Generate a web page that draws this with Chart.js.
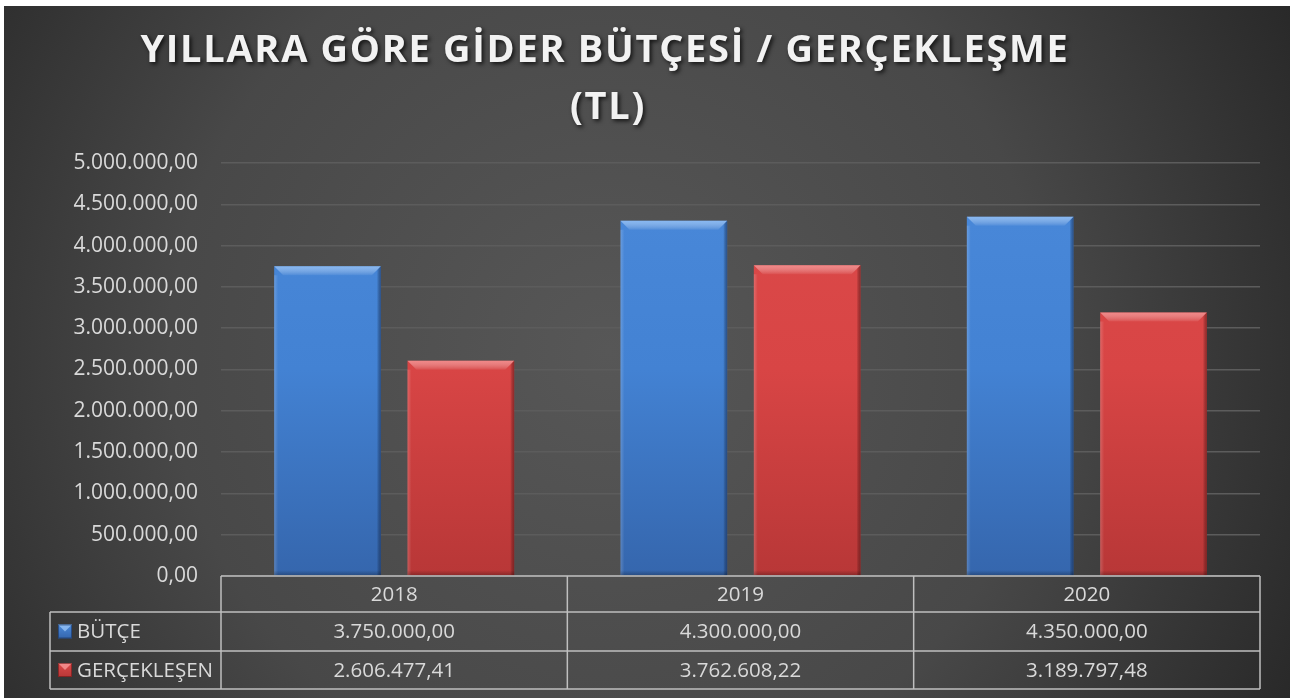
<!DOCTYPE html>
<html>
<head>
<meta charset="utf-8">
<script src="https://cdn.jsdelivr.net/npm/chart.js@4.4.1/dist/chart.umd.min.js"></script>
<style>
    html, body { margin: 0; padding: 0; background: #ffffff; }
    #wrap { position: absolute; left: 4px; top: 6px; width: 1286px; height: 692px; }
</style>
</head>
<body>
<div id="wrap"><canvas id="budgetChart"></canvas></div>
<script>
(function () {
    'use strict';

    const TITLE_LINES = ['YILLARA GÖRE GİDER BÜTÇESİ / GERÇEKLEŞME', '(TL)'];
    const YEARS = ['2018', '2019', '2020'];
    const BUDGET = [3750000, 4300000, 4350000];
    const ACTUAL = [2606477.41, 3762608.22, 3189797.48];
    const SERIES_NAMES = ['BÜTÇE', 'GERÇEKLEŞEN'];

    const FONT = "'Open Sans', 'DejaVu Sans', sans-serif";
    const TEXT_COLOR = '#d9d9d9';
    const LINE_COLOR = '#bfbfbf';

    const palette = [
        { main: '#4382d3', top: '#4a89da', bottom: '#3566ad', light: 'rgba(170,210,255,0.65)', dark: 'rgba(20,40,80,0.55)' },
        { main: '#d84545', top: '#dc4a4a', bottom: '#b83737', light: 'rgba(255,170,170,0.65)', dark: 'rgba(90,20,20,0.55)' },
    ];

    function formatTr(v) {
        const fixed = Math.abs(v).toFixed(2);
        const parts = fixed.split('.');
        const intPart = parts[0].replace(/\B(?=(\d{3})+(?!\d))/g, '.');
        return (v < 0 ? '-' : '') + intPart + ',' + parts[1];
    }

    function barGradient(ctx, i) {
        const chart = ctx.chart;
        const area = chart.chartArea;
        if (!area) return palette[i].main;
        const g = chart.ctx.createLinearGradient(0, area.top, 0, area.bottom);
        g.addColorStop(0, palette[i].top);
        g.addColorStop(0.5, palette[i].main);
        g.addColorStop(1, palette[i].bottom);
        return g;
    }

    const backgroundPlugin = {
        id: 'darkBackground',
        beforeDraw(chart) {
            const c = chart.ctx;
            const w = chart.width, h = chart.height;
            c.save();
            const g = c.createRadialGradient(w * 0.47, h * 0.5, 0, w * 0.47, h * 0.5, w * 0.62);
            g.addColorStop(0, '#575757');
            g.addColorStop(0.55, '#484848');
            g.addColorStop(1, '#262626');
            c.fillStyle = g;
            c.fillRect(0, 0, w, h);
            c.restore();
        },
    };

    const titlePlugin = {
        id: 'spacedTitle',
        afterDraw(chart) {
            const c = chart.ctx;
            c.save();
            c.font = 'bold 38px ' + FONT;
            c.letterSpacing = '1.7px';
            c.textAlign = 'center';
            c.textBaseline = 'alphabetic';
            c.fillStyle = '#f2f2f2';
            c.shadowColor = 'rgba(0,0,0,0.75)';
            c.shadowBlur = 4;
            c.shadowOffsetX = 2;
            c.shadowOffsetY = 2;
            c.fillText(TITLE_LINES[0], 601, 56);
            c.fillText(TITLE_LINES[1], 604, 113);
            c.restore();
        },
    };

    const bevelPlugin = {
        id: 'bevel',
        afterDatasetsDraw(chart) {
            const c = chart.ctx;
            chart.data.datasets.forEach((ds, di) => {
                const meta = chart.getDatasetMeta(di);
                const col = palette[di];
                meta.data.forEach((bar) => {
                    const l = bar.x - bar.width / 2;
                    const r = bar.x + bar.width / 2;
                    const t = bar.y;
                    const b = bar.base;
                    const bv = 9;
                    c.save();
                    // top bevel
                    c.beginPath();
                    c.moveTo(l, t);
                    c.lineTo(r, t);
                    c.lineTo(r - bv, t + bv);
                    c.lineTo(l + bv, t + bv);
                    c.closePath();
                    const gt = c.createLinearGradient(0, t, 0, t + bv);
                    gt.addColorStop(0, col.light);
                    gt.addColorStop(1, 'rgba(255,255,255,0.05)');
                    c.fillStyle = gt;
                    c.fill();
                    // left edge
                    const gl = c.createLinearGradient(l, 0, l + 4, 0);
                    gl.addColorStop(0, 'rgba(255,255,255,0.18)');
                    gl.addColorStop(1, 'rgba(255,255,255,0)');
                    c.fillStyle = gl;
                    c.fillRect(l, t + bv, 4, b - t - bv);
                    // right edge
                    c.beginPath();
                    c.moveTo(r, t);
                    c.lineTo(r, b);
                    c.lineTo(r - 4, b);
                    c.lineTo(r - 4, t + 4);
                    c.closePath();
                    const gr = c.createLinearGradient(r - 4, 0, r, 0);
                    gr.addColorStop(0, 'rgba(0,0,0,0)');
                    gr.addColorStop(1, col.dark);
                    c.fillStyle = gr;
                    c.fill();
                    // bottom edge
                    const gb = c.createLinearGradient(0, b - 5, 0, b);
                    gb.addColorStop(0, 'rgba(0,0,0,0)');
                    gb.addColorStop(1, 'rgba(0,0,0,0.25)');
                    c.fillStyle = gb;
                    c.fillRect(l, b - 5, r - l, 5);
                    c.restore();
                });
            });
        },
    };

    function drawMarker(c, x, y, size, col) {
        const g = c.createLinearGradient(0, y, 0, y + size);
        g.addColorStop(0, col.top);
        g.addColorStop(1, col.bottom);
        c.fillStyle = g;
        c.fillRect(x, y, size, size);
        c.beginPath();
        c.moveTo(x, y);
        c.lineTo(x + size, y);
        c.lineTo(x + size / 2, y + size / 2);
        c.closePath();
        c.fillStyle = col.light;
        c.fill();
        c.strokeStyle = col.dark;
        c.lineWidth = 1;
        c.strokeRect(x + 0.5, y + 0.5, size - 1, size - 1);
    }

    const tablePlugin = {
        id: 'dataTable',
        afterDraw(chart) {
            const c = chart.ctx;
            const area = chart.chartArea;
            const xs = chart.scales.x;
            const n = chart.data.labels.length;
            const colW = area.width / n;
            const top = area.bottom;
            const rows = [top, top + 36, top + 75, top + 113];
            const legendLeft = 46;

            c.save();
            c.strokeStyle = LINE_COLOR;
            c.lineWidth = 1.5;
            // horizontal lines
            c.beginPath();
            c.moveTo(area.left, rows[0]);
            c.lineTo(area.right, rows[0]);
            for (let k = 1; k < rows.length; k++) {
                c.moveTo(legendLeft, rows[k]);
                c.lineTo(area.right, rows[k]);
            }
            // vertical lines
            c.moveTo(legendLeft, rows[1]);
            c.lineTo(legendLeft, rows[3]);
            for (let i = 0; i <= n; i++) {
                const x = area.left + i * colW;
                c.moveTo(x, rows[0]);
                c.lineTo(x, rows[3]);
            }
            c.stroke();

            c.fillStyle = TEXT_COLOR;
            c.font = '20.5px ' + FONT;
            c.textAlign = 'center';
            c.textBaseline = 'middle';
            chart.data.labels.forEach((lab, i) => {
                const cx = xs.getPixelForValue(i);
                c.fillText(lab, cx, (rows[0] + rows[1]) / 2 + 1);
                chart.data.datasets.forEach((ds, di) => {
                    c.fillStyle = TEXT_COLOR;
                    c.fillText(formatTr(ds.data[i]), cx, (rows[di + 1] + rows[di + 2]) / 2 + 1);
                });
            });

            chart.data.datasets.forEach((ds, di) => {
                const cy = (rows[di + 1] + rows[di + 2]) / 2;
                drawMarker(c, legendLeft + 8, cy - 7, 14, palette[di]);
                c.fillStyle = TEXT_COLOR;
                c.textAlign = 'left';
                c.fillText(ds.label, legendLeft + 27, cy + 1);
            });
            c.restore();
        },
    };

    const canvas = document.getElementById('budgetChart');

    new Chart(canvas, {
        type: 'bar',
        data: {
            labels: YEARS,
            datasets: [
                {
                    label: SERIES_NAMES[0],
                    data: BUDGET,
                    backgroundColor: (ctx) => barGradient(ctx, 0),
                    borderWidth: 0,
                    categoryPercentage: 0.77,
                    barPercentage: 0.8,
                },
                {
                    label: SERIES_NAMES[1],
                    data: ACTUAL,
                    backgroundColor: (ctx) => barGradient(ctx, 1),
                    borderWidth: 0,
                    categoryPercentage: 0.77,
                    barPercentage: 0.8,
                },
            ],
        },
        options: {
            responsive: true,
            maintainAspectRatio: false,
            animation: false,
            layout: { padding: { top: 157, right: 30, bottom: 114, left: 0 } },
            plugins: {
                legend: { display: false },
                title: { display: false },
                tooltip: { enabled: false },
            },
            scales: {
                x: {
                    ticks: { display: false },
                    grid: { display: false },
                    border: { display: false },
                },
                y: {
                    min: 0,
                    max: 5000000,
                    afterFit(scale) { scale.width = 217; },
                    ticks: {
                        stepSize: 500000,
                        color: TEXT_COLOR,
                        font: { family: FONT, size: 21 },
                        padding: 23,
                        callback: (v) => formatTr(v),
                    },
                    grid: { color: '#5c5c5c', lineWidth: 1.5, drawTicks: false },
                    border: { display: false },
                },
            },
        },
        plugins: [backgroundPlugin, titlePlugin, bevelPlugin, tablePlugin],
    });
})();
</script>
</body>
</html>
